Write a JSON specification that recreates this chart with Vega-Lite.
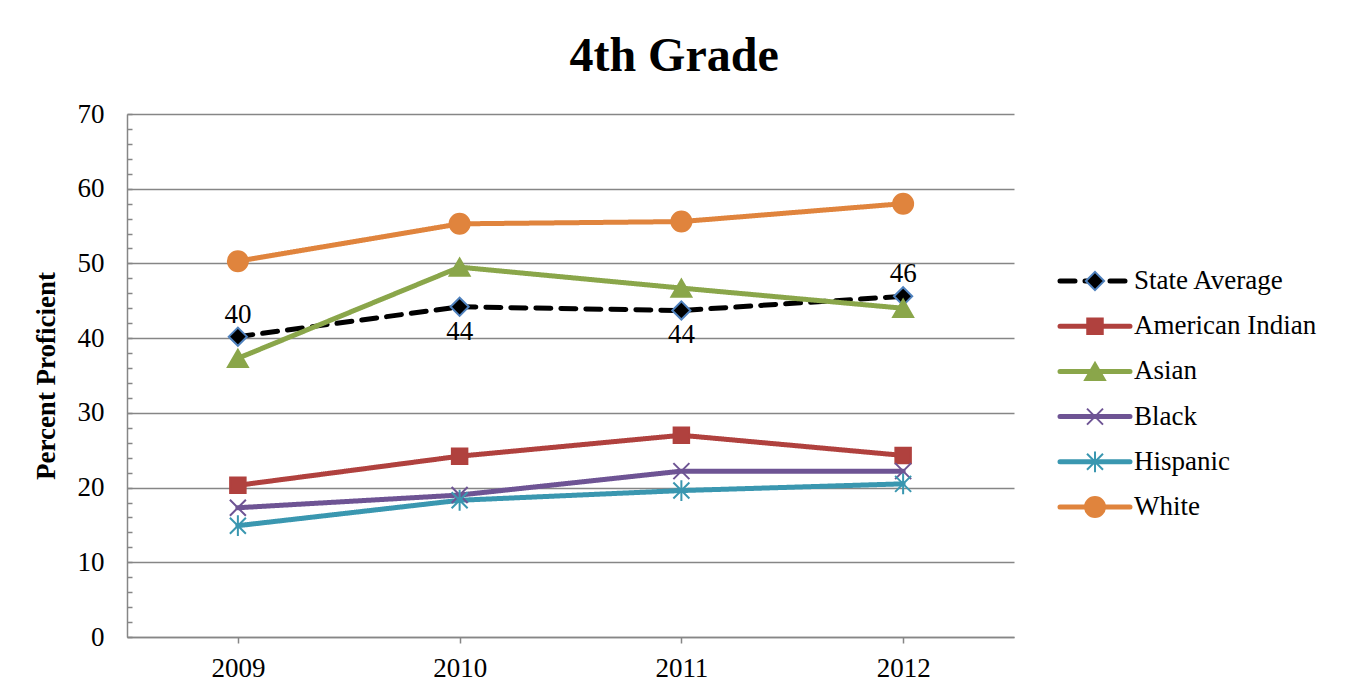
{
  "$schema": "https://vega.github.io/schema/vega-lite/v6.json",
  "padding": {"left": 32, "top": 33, "right": 5, "bottom": 5},
  "background": "white",
  "title": {"text": "4th Grade", "font": "Liberation Serif", "fontSize": 48, "fontWeight": "bold", "color": "black", "anchor": "middle", "offset": 19},
  "datasets": {
    "scores": [
      {"series": "State Average", "year": "2009", "value": 40.2},
      {"series": "State Average", "year": "2010", "value": 44.2},
      {"series": "State Average", "year": "2011", "value": 43.7},
      {"series": "State Average", "year": "2012", "value": 45.6},
      {"series": "American Indian", "year": "2009", "value": 20.3},
      {"series": "American Indian", "year": "2010", "value": 24.2},
      {"series": "American Indian", "year": "2011", "value": 27.0},
      {"series": "American Indian", "year": "2012", "value": 24.3},
      {"series": "Asian", "year": "2009", "value": 37.3},
      {"series": "Asian", "year": "2010", "value": 49.5},
      {"series": "Asian", "year": "2011", "value": 46.7},
      {"series": "Asian", "year": "2012", "value": 44.0},
      {"series": "Black", "year": "2009", "value": 17.3},
      {"series": "Black", "year": "2010", "value": 19.0},
      {"series": "Black", "year": "2011", "value": 22.2},
      {"series": "Black", "year": "2012", "value": 22.2},
      {"series": "Hispanic", "year": "2009", "value": 14.9},
      {"series": "Hispanic", "year": "2010", "value": 18.3},
      {"series": "Hispanic", "year": "2011", "value": 19.6},
      {"series": "Hispanic", "year": "2012", "value": 20.5},
      {"series": "White", "year": "2009", "value": 50.3},
      {"series": "White", "year": "2010", "value": 55.3},
      {"series": "White", "year": "2011", "value": 55.6},
      {"series": "White", "year": "2012", "value": 58.0}
    ]
  },
  "spacing": 43,
  "hconcat": [
    {
      "width": 887,
      "height": 523,
      "data": {"name": "scores"},
      "encoding": {
        "x": {
          "field": "year", "type": "ordinal",
          "scale": {"type": "point", "padding": 0.5},
          "axis": {"title": null, "labelAngle": 0, "labelFont": "Liberation Serif", "labelFontSize": 27, "labelColor": "black", "tickSize": 6, "tickColor": "#868686", "tickWidth": 1.5, "labelPadding": 12, "domainColor": "#868686", "domainWidth": 1.5, "grid": false}
        },
        "y": {
          "field": "value", "type": "quantitative",
          "scale": {"domain": [0, 70], "nice": false, "zero": true},
          "axis": {
            "title": "Percent Proficient",
            "values": [0, 2, 4, 6, 8, 10, 12, 14, 16, 18, 20, 22, 24, 26, 28, 30, 32, 34, 36, 38, 40, 42, 44, 46, 48, 50, 52, 54, 56, 58, 60, 62, 64, 66, 68, 70],
            "labelExpr": "datum.value % 10 === 0 ? datum.label : ''",
            "labelOverlap": false, "labelFlush": false, "labelBound": false,
            "tickSize": -5, "tickColor": "#868686", "tickWidth": 1.5,
            "labelPadding": 28, "labelFont": "Liberation Serif", "labelFontSize": 27, "labelColor": "black",
            "titleFont": "Liberation Serif", "titleFontSize": 27, "titleFontWeight": "bold", "titleColor": "black", "titlePadding": 17,
            "grid": true, "gridColor": "#868686", "gridWidth": 1.5,
            "gridOpacity": {"condition": {"test": "datum.value % 10 !== 0", "value": 0}, "value": 1},
            "domainColor": "#868686", "domainWidth": 1.5
          }
        }
      },
      "layer": [
        {
          "mark": {"type": "line", "strokeWidth": 5, "strokeCap": "round", "strokeJoin": "round"},
          "encoding": {
            "color": {"field": "series", "type": "nominal", "legend": null,
              "scale": {"domain": ["State Average", "American Indian", "Asian", "Black", "Hispanic", "White"], "range": ["#000000", "#B0413E", "#8AA64A", "#6E5494", "#3A97B0", "#E0843D"]}},
            "strokeDash": {"field": "series", "type": "nominal", "legend": null,
              "scale": {"domain": ["State Average", "American Indian", "Asian", "Black", "Hispanic", "White"], "range": [[15, 10], [1, 0], [1, 0], [1, 0], [1, 0], [1, 0]]}}
          }
        },
        {
          "mark": {"type": "point", "strokeWidth": 2, "opacity": 1},
          "encoding": {
            "shape": {"field": "series", "type": "nominal", "legend": null,
              "scale": {"domain": ["State Average", "American Indian", "Asian", "Black", "Hispanic", "White"], "range": ["diamond", "square", "triangle-up", "M-1,-1L1,1M-1,1L1,-1", "M-1,-1L1,1M-1,1L1,-1M0,-1.3L0,1.3", "circle"]}},
            "fill": {"field": "series", "type": "nominal", "legend": null,
              "scale": {"domain": ["State Average", "American Indian", "Asian", "Black", "Hispanic", "White"], "range": ["#000000", "#B0413E", "#8AA64A", "transparent", "transparent", "#E0843D"]}},
            "stroke": {"field": "series", "type": "nominal", "legend": null,
              "scale": {"domain": ["State Average", "American Indian", "Asian", "Black", "Hispanic", "White"], "range": ["#4F81BD", "#B0413E", "#8AA64A", "#6E5494", "#3A97B0", "#E0843D"]}},
            "size": {"field": "series", "type": "nominal", "legend": null,
              "scale": {"type": "ordinal", "domain": ["State Average", "American Indian", "Asian", "Black", "Hispanic", "White"], "range": [330, 240, 400, 256, 256, 400]}}
          }
        },
        {
          "transform": [{"filter": "datum.series === 'State Average' && (datum.year === '2009' || datum.year === '2012')"}],
          "mark": {"type": "text", "dy": -22, "font": "Liberation Serif", "fontSize": 27, "color": "black", "baseline": "middle"},
          "encoding": {"text": {"field": "value", "type": "quantitative", "format": ".0f"}}
        },
        {
          "transform": [{"filter": "datum.series === 'State Average' && (datum.year === '2010' || datum.year === '2011')"}],
          "mark": {"type": "text", "dy": 25, "font": "Liberation Serif", "fontSize": 27, "color": "black", "baseline": "middle"},
          "encoding": {"text": {"field": "value", "type": "quantitative", "format": ".0f"}}
        }
      ]
    },
    {
      "width": 70,
      "height": 523,
      "data": {"name": "scores"},
      "transform": [{"aggregate": [{"op": "count", "as": "n"}], "groupby": ["series"]}],
      "encoding": {
        "y": {"field": "series", "type": "nominal",
          "sort": ["State Average", "American Indian", "Asian", "Black", "Hispanic", "White"],
          "scale": {"type": "point", "padding": 0, "range": [167, 393]}, "axis": null}
      },
      "layer": [
        {
          "mark": {"type": "rule", "strokeWidth": 5, "strokeCap": "round"},
          "encoding": {
            "x": {"datum": 0, "type": "quantitative", "scale": {"domain": [0, 1], "nice": false}, "axis": null},
            "x2": {"datum": 1},
            "color": {"field": "series", "type": "nominal", "legend": null,
              "scale": {"domain": ["State Average", "American Indian", "Asian", "Black", "Hispanic", "White"], "range": ["#000000", "#B0413E", "#8AA64A", "#6E5494", "#3A97B0", "#E0843D"]}},
            "strokeDash": {"field": "series", "type": "nominal", "legend": null,
              "scale": {"domain": ["State Average", "American Indian", "Asian", "Black", "Hispanic", "White"], "range": [[15, 10], [1, 0], [1, 0], [1, 0], [1, 0], [1, 0]]}}
          }
        },
        {
          "mark": {"type": "point", "strokeWidth": 2, "opacity": 1},
          "encoding": {
            "x": {"datum": 0.5, "type": "quantitative"},
            "shape": {"field": "series", "type": "nominal", "legend": null,
              "scale": {"domain": ["State Average", "American Indian", "Asian", "Black", "Hispanic", "White"], "range": ["diamond", "square", "triangle-up", "M-1,-1L1,1M-1,1L1,-1", "M-1,-1L1,1M-1,1L1,-1M0,-1.3L0,1.3", "circle"]}},
            "fill": {"field": "series", "type": "nominal", "legend": null,
              "scale": {"domain": ["State Average", "American Indian", "Asian", "Black", "Hispanic", "White"], "range": ["#000000", "#B0413E", "#8AA64A", "transparent", "transparent", "#E0843D"]}},
            "stroke": {"field": "series", "type": "nominal", "legend": null,
              "scale": {"domain": ["State Average", "American Indian", "Asian", "Black", "Hispanic", "White"], "range": ["#4F81BD", "#B0413E", "#8AA64A", "#6E5494", "#3A97B0", "#E0843D"]}},
            "size": {"field": "series", "type": "nominal", "legend": null,
              "scale": {"type": "ordinal", "domain": ["State Average", "American Indian", "Asian", "Black", "Hispanic", "White"], "range": [330, 240, 400, 256, 256, 400]}}
          }
        },
        {
          "mark": {"type": "text", "align": "left", "dx": 4, "baseline": "middle", "font": "Liberation Serif", "fontSize": 27, "color": "black"},
          "encoding": {
            "x": {"datum": 1, "type": "quantitative"},
            "text": {"field": "series", "type": "nominal"}
          }
        }
      ]
    }
  ],
  "config": {"view": {"stroke": null}}
}
